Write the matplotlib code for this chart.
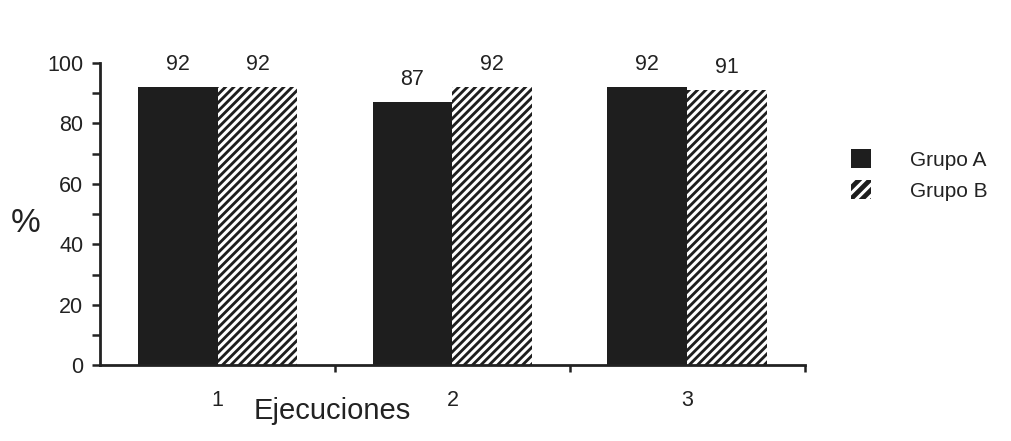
import numpy as np
import matplotlib.pyplot as plt
from matplotlib.patches import Patch

plt.rcParams['font.family'] = ['Liberation Sans', 'DejaVu Sans']
plt.rcParams['hatch.linewidth'] = 2.2
plt.rcParams['hatch.color'] = 'white'

ejecuciones = ["1", "2", "3"]
grupo_a = [92, 87, 92]
grupo_b = [92, 92, 91]

dark = '#1e1e1e'
x = np.arange(1, len(ejecuciones) + 1)
w = 0.34

fig = plt.figure(figsize=(10.11, 4.41), dpi=100)
ax = fig.add_axes([0.099, 0.172, 0.697, 0.685])

bars_a = ax.bar(x - w / 2, grupo_a, width=w, color=dark, linewidth=0)
bars_b = ax.bar(x + w / 2, grupo_b, width=w, color=dark, edgecolor='white',
                hatch='////', linewidth=0)

for bars, vals in [(bars_a, grupo_a), (bars_b, grupo_b)]:
    for b, v in zip(bars, vals):
        ax.annotate(str(v), (b.get_x() + b.get_width() / 2, v),
                    xytext=(0, 9), textcoords='offset points',
                    ha='center', va='bottom', fontsize=15.5, color='#222')

ax.set_xlim(0.5, 3.5)
ax.set_ylim(0, 100)
ax.set_yticks(np.arange(0, 101, 20))
ax.set_yticks(np.arange(10, 100, 20), minor=True)
ax.set_xticks(x)
ax.set_xticklabels(ejecuciones)
ax.set_xticks([1.5, 2.5, 3.5], minor=True)

for side in ['top', 'right']:
    ax.spines[side].set_visible(False)
for side in ['left', 'bottom']:
    ax.spines[side].set_linewidth(2)
    ax.spines[side].set_color('#222')

ax.tick_params(axis='y', which='both', direction='out', length=6, width=1.8,
               labelsize=15.5, colors='#222', pad=6)
ax.tick_params(axis='x', which='major', length=0, labelsize=15.5,
               colors='#222', pad=18)
ax.tick_params(axis='x', which='minor', direction='out', length=5,
               width=1.8, colors='#222')

ax.set_ylabel('%', fontsize=24, rotation=0, color='#222', va='center')
ax.yaxis.set_label_coords(-0.105, 0.47)
ax.set_xlabel('Ejecuciones', fontsize=21, color='#222')
ax.xaxis.set_label_coords(0.33, -0.105)

handles = [Patch(facecolor=dark, linewidth=0),
           Patch(facecolor=dark, edgecolor='white', hatch='///', linewidth=0)]
fig.legend(handles, ['Grupo A', 'Grupo B'], loc='upper left',
           bbox_to_anchor=(0.823, 0.705), frameon=False, fontsize=15,
           handlelength=0.95, handleheight=1.05, handletextpad=1.9,
           labelspacing=0.5, labelcolor='#222')

fig.savefig('out.png', dpi=100)
